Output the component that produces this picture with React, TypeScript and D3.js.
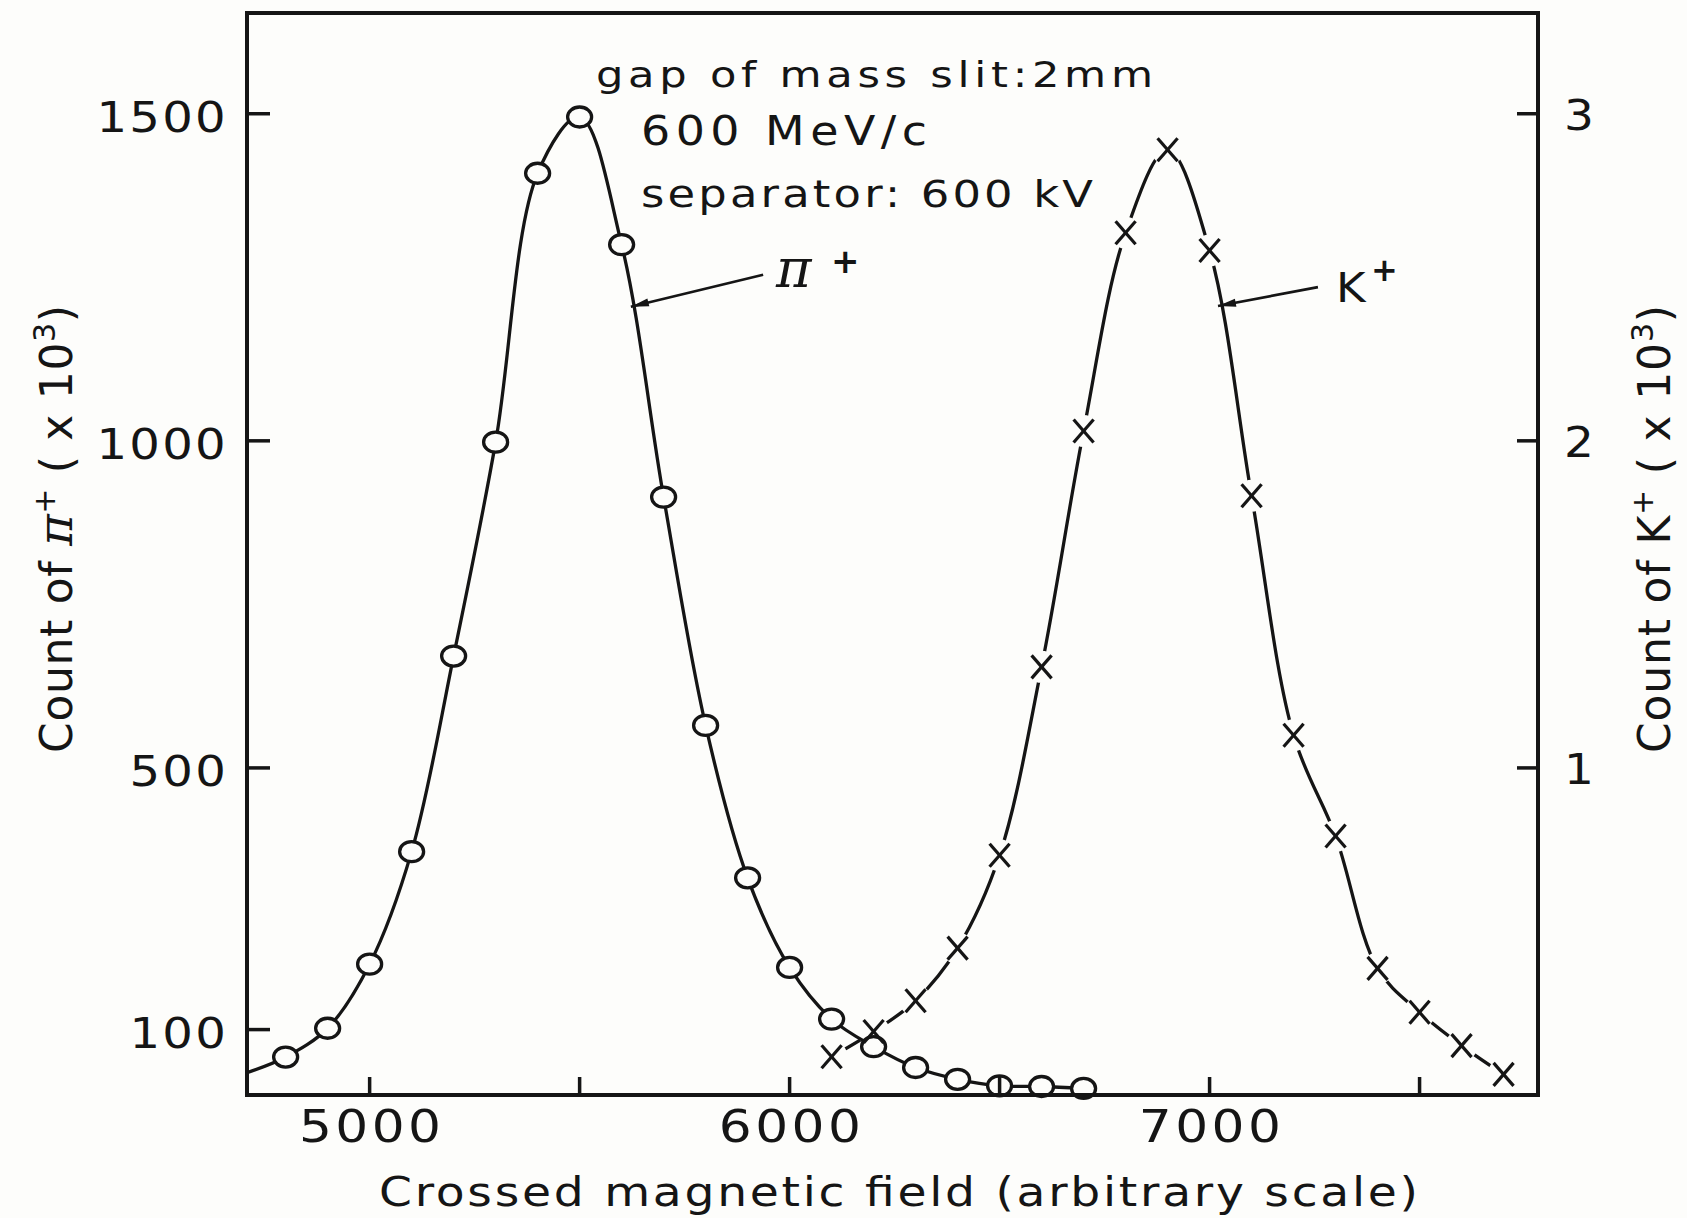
import React from "react";
import * as d3 from "d3";

// ---- data ----
const fieldPi = [4800, 4900, 5000, 5100, 5200, 5300, 5400, 5500, 5600, 5700, 5800, 5900, 6000, 6100, 6200, 6300, 6400, 6500, 6600, 6700];
const countPi = [58, 102, 200, 372, 671, 998, 1409, 1495, 1300, 914, 565, 332, 195, 116, 74, 42, 24, 14, 13, 10];
// where the drawn pi+ curve enters the frame on the left
const piCurveLeadField = [4708];
const piCurveLeadCount = [34];

const fieldK = [6100, 6200, 6300, 6400, 6500, 6600, 6700, 6800, 6900, 7000, 7100, 7200, 7300, 7400, 7500, 7600, 7700];
const countK = [0.117, 0.194, 0.288, 0.449, 0.733, 1.309, 2.03, 2.636, 2.89, 2.582, 1.832, 1.1, 0.792, 0.387, 0.253, 0.151, 0.063];

const leftTicks = [100, 500, 1000, 1500];
const rightTicks = [1, 2, 3];
const xTicks = [5000, 5500, 6000, 6500, 7000, 7500];
const xTickLabels = [5000, 6000, 7000];

const notes = ["gap of mass slit:2mm", "600 MeV/c", "separator: 600 kV"];

// arrow annotations in data space (tail -> tip on the curve)
const piArrowTail = [5937, 1254];
const piArrowTip = [5622, 1205];
const kArrowTail = [7258, 1235];
const kArrowTip = [7020, 1206];

const INK = "#151515";
const BG = "#fdfdfb";
const FONT = "'DejaVu Sans', 'Open Sans', sans-serif";

function arrowHead(x1: number, y1: number, x2: number, y2: number, len: number, w: number) {
  const a = Math.atan2(y2 - y1, x2 - x1);
  const bx = x2 - len * Math.cos(a);
  const by = y2 - len * Math.sin(a);
  const px = -Math.sin(a) * w;
  const py = Math.cos(a) * w;
  return `${x2},${y2} ${bx + px},${by + py} ${bx - px},${by - py}`;
}

// text widened horizontally to mimic the wide lettering-guide font
function Wide(props: {
  x: number; y: number; sx?: number; size: number; anchor?: string;
  len?: number; spacing?: number; children: React.ReactNode;
}) {
  const sx = props.sx ?? 1.18;
  return (
    <text
      transform={`translate(${props.x},${props.y}) scale(${sx},1)`}
      textAnchor={props.anchor ?? "start"}
      fontFamily={FONT}
      fontSize={props.size}
      letterSpacing={props.spacing}
      textLength={props.len ? props.len / sx : undefined}
      lengthAdjust={props.len ? "spacing" : undefined}
      fill={INK}
    >
      {props.children}
    </text>
  );
}

export default function App() {
  const W = 1687, H = 1218;
  const L = 247, R = 1538, T = 13, B = 1095;

  const x = d3.scaleLinear().domain([4708, 7782]).range([L, R]);
  const yL = d3.scaleLinear().domain([0, 1654]).range([B, T]);
  const yR = d3.scaleLinear().domain([0, 1654 / 500]).range([B, T]);

  const piPts: [number, number][] = [
    ...piCurveLeadField.map((f, i) => [f, piCurveLeadCount[i]] as [number, number]),
    ...fieldPi.map((f, i) => [f, countPi[i]] as [number, number]),
  ];
  const kPts: [number, number][] = fieldK.map((f, i) => [f, countK[i]]);

  const piLine = d3.line<[number, number]>()
    .x((d) => x(d[0]))
    .y((d) => yL(d[1]))
    .curve(d3.curveCatmullRom.alpha(0.5));
  const kLine = d3.line<[number, number]>()
    .x((d) => x(d[0]))
    .y((d) => yR(d[1]))
    .curve(d3.curveCatmullRom.alpha(0.5));

  const pa = [x(piArrowTail[0]), yL(piArrowTail[1]), x(piArrowTip[0]), yL(piArrowTip[1])];
  const ka = [x(kArrowTail[0]), yL(kArrowTail[1]), x(kArrowTip[0]), yL(kArrowTip[1])];

  return (
    <svg
      width={W}
      height={H}
      viewBox={`0 0 ${W} ${H}`}
      style={{ position: "absolute", left: 0, top: 0, background: BG }}
    >
      <defs>
        <clipPath id="plotclip">
          <rect x={L} y={T} width={R - L} height={B - T} />
        </clipPath>
        <mask id="kmask" maskUnits="userSpaceOnUse" x={0} y={0} width={W} height={H}>
          <rect x={0} y={0} width={W} height={H} fill="white" />
          {kPts.map((d, i) => (
            <circle key={i} cx={x(d[0])} cy={yR(d[1])} r={16} fill="black" />
          ))}
        </mask>
      </defs>

      <rect x={0} y={0} width={W} height={H} fill={BG} />

      {/* curves */}
      <g clipPath="url(#plotclip)">
        <path d={kLine(kPts) || ""} fill="none" stroke={INK} strokeWidth={3.3} mask="url(#kmask)" />
        <path d={piLine(piPts) || ""} fill="none" stroke={INK} strokeWidth={3.3} />
      </g>

      {/* pi markers */}
      {fieldPi.map((f, i) => (
        <ellipse
          key={"p" + i}
          cx={x(f)}
          cy={yL(countPi[i])}
          rx={12}
          ry={10}
          fill={BG}
          stroke={INK}
          strokeWidth={3.3}
        />
      ))}

      {/* K markers */}
      {fieldK.map((f, i) => {
        const cx = x(f), cy = yR(countK[i]);
        return (
          <g key={"k" + i} stroke={INK} strokeWidth={3.2} strokeLinecap="butt">
            <line x1={cx - 10} y1={cy - 11.5} x2={cx + 10} y2={cy + 11.5} />
            <line x1={cx + 10} y1={cy - 11.5} x2={cx - 10} y2={cy + 11.5} />
          </g>
        );
      })}

      {/* frame */}
      <rect x={L} y={T} width={R - L} height={B - T} fill="none" stroke={INK} strokeWidth={4} />

      {/* left ticks */}
      {leftTicks.map((t) => (
        <g key={"lt" + t}>
          <line x1={L} x2={L + 23} y1={yL(t)} y2={yL(t)} stroke={INK} strokeWidth={3.5} />
          <Wide x={228} y={yL(t) + 18} size={43} anchor="end" sx={1.12} spacing={2}>
            {String(t)}
          </Wide>
        </g>
      ))}

      {/* right ticks */}
      {rightTicks.map((t) => (
        <g key={"rt" + t}>
          <line x1={R - 21} x2={R} y1={yR(t)} y2={yR(t)} stroke={INK} strokeWidth={3.5} />
          <Wide x={1564} y={yR(t) + 16} size={42} sx={1.12}>
            {String(t)}
          </Wide>
        </g>
      ))}

      {/* bottom ticks */}
      {xTicks.map((t) => (
        <line key={"xt" + t} x1={x(t)} x2={x(t)} y1={B} y2={B - 18} stroke={INK} strokeWidth={3.5} />
      ))}
      {xTickLabels.map((t) => (
        <Wide key={"xl" + t} x={x(t) + 2} y={1142} size={45} anchor="middle" sx={1.15} spacing={3}>
          {String(t)}
        </Wide>
      ))}

      {/* x axis title */}
      <Wide x={379} y={1206} size={40} len={1039} sx={1.18}>
        Crossed magnetic field (arbitrary scale)
      </Wide>

      {/* left y title */}
      <text
        transform="translate(72,753) rotate(-90)"
        fontFamily={FONT}
        fontSize={44}
        textLength={448}
        lengthAdjust="spacing"
        fill={INK}
      >
        {"Count of "}
        <tspan fontFamily="'DejaVu Serif', serif" fontStyle="italic" fontSize={48}>π</tspan>
        <tspan dy={-17} fontSize={30}>+</tspan>
        <tspan dy={17}>{" ( x 10"}</tspan>
        <tspan dy={-17} fontSize={30}>3</tspan>
        <tspan dy={17}>)</tspan>
      </text>

      {/* right y title */}
      <text
        transform="translate(1670,753) rotate(-90)"
        fontFamily={FONT}
        fontSize={44}
        textLength={448}
        lengthAdjust="spacing"
        fill={INK}
      >
        {"Count of K"}
        <tspan dy={-17} fontSize={30}>+</tspan>
        <tspan dy={17}>{" ( x 10"}</tspan>
        <tspan dy={-17} fontSize={30}>3</tspan>
        <tspan dy={17}>)</tspan>
      </text>

      {/* notes */}
      <Wide x={596} y={87} size={36} len={557} sx={1.2}>
        {notes[0]}
      </Wide>
      <Wide x={641} y={145} size={41} len={286} sx={1.12}>
        {notes[1]}
      </Wide>
      <Wide x={641} y={207} size={38} len={452} sx={1.18}>
        {notes[2]}
      </Wide>

      {/* pi+ label and arrow */}
      <line x1={pa[0]} y1={pa[1]} x2={pa[2]} y2={pa[3]} stroke={INK} strokeWidth={2.6} />
      <polygon points={arrowHead(pa[0], pa[1], pa[2], pa[3], 18, 4)} fill={INK} />
      <text x={776} y={287} fontFamily="'DejaVu Serif', serif" fontStyle="italic" fontSize={54} fill={INK}>
        π
      </text>
      <text x={831} y={273} fontFamily={FONT} fontSize={34} fontWeight="bold" fill={INK}>
        +
      </text>

      {/* K+ label and arrow */}
      <line x1={ka[0]} y1={ka[1]} x2={ka[2]} y2={ka[3]} stroke={INK} strokeWidth={2.6} />
      <polygon points={arrowHead(ka[0], ka[1], ka[2], ka[3], 18, 4)} fill={INK} />
      <Wide x={1336} y={302} size={41} sx={1.1}>
        K
      </Wide>
      <text x={1371} y={281} fontFamily={FONT} fontSize={32} fontWeight="bold" fill={INK}>
        +
      </text>
    </svg>
  );
}
